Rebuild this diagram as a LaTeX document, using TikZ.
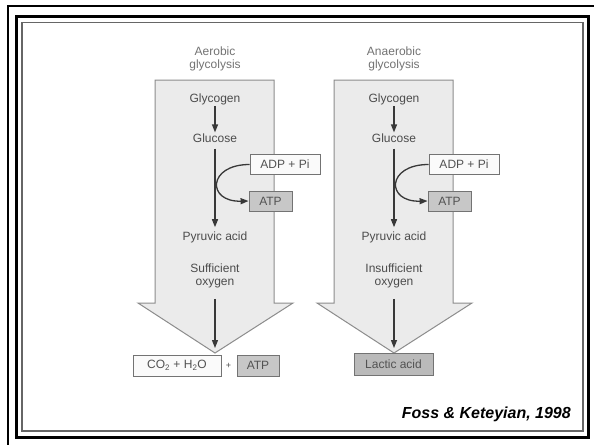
\documentclass[tikz,border=0pt]{standalone}
\usepackage{fontspec}
\setmainfont{Liberation Sans}
\usetikzlibrary{arrows.meta}

\begin{document}
\begin{tikzpicture}[x=1pt,y=-1pt,
  bigarrow/.style={draw=black!45, fill=black!8, line width=1pt, line join=miter},
  lbl/.style={text=black!70, font=\fontsize{12}{13}\selectfont, align=center, inner sep=1pt},
  ttl/.style={lbl, text=black!55},
  box/.style={draw=black!55, line width=0.9pt, inner sep=0pt, text=black!68,
              font=\fontsize{12}{13}\selectfont, minimum height=20pt},
  whitebox/.style={box, fill=black!2},
  graybox/.style={box, fill=black!22},
  flow/.style={draw=black!78, line width=1.3pt, -{Triangle[length=8pt,width=6pt]}}
]
\useasboundingbox (0,0) rectangle (594,445);
\fill[white] (0,0) rectangle (594,445);

% slide frame
\draw[line width=2pt] (594,5.8) -- (7.5,5.8) -- (7.5,445);
\draw[line width=3pt] (16.5,16.5) rectangle (588.5,437.5);
\draw[line width=1.2pt, black!60] (22,22.5) rectangle (583,431);

% broad arrows
\draw[bigarrow] (155,80) -- (274,80) -- (274,303) -- (293,303) -- (215,353)
  -- (138,303) -- (155,303) -- cycle;
\draw[bigarrow] (334,80) -- (453,80) -- (453,303) -- (472,303) -- (394,353)
  -- (317,303) -- (334,303) -- cycle;
\coordinate (tipA) at (215,353);
\coordinate (tipB) at (394,353);

% aerobic column
\node[ttl] (ttlA) at (215,58.5) {Aerobic\\glycolysis};
\node[lbl] (glyA) at (215,99) {Glycogen};
\node[lbl] (gluA) at (215,138) {Glucose};
\node[lbl] (pyrA) at (215,237) {Pyruvic acid};
\node[lbl] (oxA) at (215,275.5) {Sufficient\\oxygen};
\node[whitebox, minimum width=70pt] (adpA) at (285,164.5) {ADP + Pi};
\node[graybox, minimum width=43pt] (atpA) at (270.5,201) {ATP};
\node[whitebox, minimum width=88pt, minimum height=21pt] (co2) at (177,365.5)
  {CO\textsubscript{2} + H\textsubscript{2}O};
\node[lbl, font=\fontsize{9}{10}\selectfont] (plus) at (228.5,366) {+};
\node[graybox, minimum width=42pt, minimum height=21pt] (atpC) at (258,365.5) {ATP};

% anaerobic column
\node[ttl] (ttlB) at (394,58.5) {Anaerobic\\glycolysis};
\node[lbl] (glyB) at (394,99) {Glycogen};
\node[lbl] (gluB) at (394,138) {Glucose};
\node[lbl] (pyrB) at (394,237) {Pyruvic acid};
\node[lbl] (oxB) at (394,275.5) {Insufficient\\oxygen};
\node[whitebox, minimum width=70pt] (adpB) at (464,164.5) {ADP + Pi};
\node[graybox, minimum width=43pt] (atpB) at (449.5,201) {ATP};
\node[box, fill=black!27, minimum width=79pt, minimum height=22pt] (lac) at (393.5,364)
  {Lactic acid};

% pathway arrows
\draw[flow] (glyA) -- (gluA);
\draw[flow, shorten <=5pt, shorten >=3pt] (gluA) -- (pyrA);
\draw[flow, shorten <=10pt, shorten >=5pt] (oxA) -- (tipA);
\draw[flow] (adpA.west) .. controls +(-42,0) and +(-42,1) .. (atpA.west);

\draw[flow] (glyB) -- (gluB);
\draw[flow, shorten <=5pt, shorten >=3pt] (gluB) -- (pyrB);
\draw[flow, shorten <=10pt, shorten >=5pt] (oxB) -- (tipB);
\draw[flow] (adpB.west) .. controls +(-42,0) and +(-42,1) .. (atpB.west);

% source
\node[anchor=base east, inner sep=0pt, font=\fontsize{16}{18}\selectfont\bfseries\itshape]
  (cite) at (571,418) {Foss \& Keteyian, 1998};
\end{tikzpicture}
\end{document}
